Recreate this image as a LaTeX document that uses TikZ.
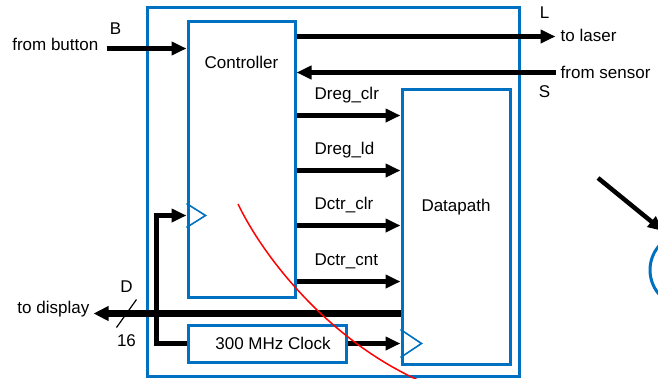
\documentclass[tikz,border=0pt]{standalone}
\usepackage{fontspec}
\setmainfont{Liberation Sans}
\usetikzlibrary{arrows.meta,calc,positioning}
\definecolor{Wire}{HTML}{0070C0}
\definecolor{Cut}{HTML}{FF0000}

\tikzset{
  blk/.style={draw=Wire, line width=3pt, inner sep=0pt},
  tag/.style={font=\fontsize{17}{19}\selectfont, inner sep=0pt},
  sig/.style={line width=4.5pt, -{Triangle[length=15pt,width=13pt]}},
  bus/.style={line width=6.5pt, -{Triangle[length=15pt,width=14pt]}},
  clkmark/.style={draw=Wire, line width=1.6pt},
}

\begin{document}
\begin{tikzpicture}[x=1pt, y=-1pt]
  \useasboundingbox (0,0) rectangle (658,378);

  % system, controller, datapath, clock
  \node[blk, minimum width=372pt, minimum height=369pt] (sys) at (333,191.5) {};
  \node[blk, minimum width=107pt, minimum height=276pt] (ctrl) at (241.5,159) {};
  \node[blk, minimum width=108pt, minimum height=275pt] (dp) at (456,226.5) {};
  \node[blk, minimum width=158pt, minimum height=37pt, tag] (clk) at (267,343.5) {\hspace*{12pt}300 MHz Clock};
  \node[tag] (ctrltxt) at ($(ctrl.north)+(0,43)$) {Controller};
  \node[tag] (dptxt) at ($(dp.north)+(0,120)$) {Datapath};

  % button in
  \path (ctrl.north west) ++(0,29) coordinate (bin);
  \coordinate (bsrc) at ($(bin)+(-80,0)$);
  \draw[sig] (bsrc) -- (bin);
  \node[tag, left=8pt of bsrc, yshift=4pt] (btntxt) {from button};
  \node[tag] (btag) at ($(bsrc)+(9,-20)$) {B};

  % laser out, sensor in
  \path (ctrl.north east) ++(0,17) coordinate (lout);
  \coordinate (ldst) at ($(lout)+(259,0)$);
  \draw[sig] (lout) -- (ldst);
  \node[tag, right=5pt of ldst, yshift=1pt] (lasertxt) {to laser};
  \node[tag] (ltag) at ($(ldst)+(-11,-24)$) {L};

  \path (ctrl.north east) ++(0,53) coordinate (sin);
  \coordinate (ssrc) at ($(sin)+(259,0)$);
  \draw[sig] (ssrc) -- (sin);
  \node[tag, right=5pt of ssrc] (sensortxt) {from sensor};
  \node[tag] (stag) at ($(ssrc)+(-11,19)$) {S};

  % controller to datapath
  \foreach \i/\nm/\yy in {1/Dreg\_clr/96, 2/Dreg\_ld/151, 3/Dctr\_clr/206, 4/Dctr\_cnt/262} {
    \path (ctrl.north east) ++(0,\yy) coordinate (s\i);
    \draw[sig] (s\i) -- (s\i -| dp.west);
    \node[tag, above right=12pt and 18pt of s\i] (sig\i) {\nm};
  }

  % display bus
  \path (dp.south west) ++(0,-52) coordinate (dout);
  \coordinate (dend) at ($(dout)+(-307,0)$);
  \draw[bus] (dout) -- (dend);
  \node[tag, left=4pt of dend, yshift=4pt] (disptxt) {to display};
  \draw[line width=1.2pt] ($(dend)+(23,14)$) -- ($(dend)+(43,-14)$);
  \node[tag] (dtag) at ($(dend)+(33,-27)$) {D};
  \node[tag] (wtag) at ($(dend)+(33,27)$) {16};

  % clock
  \path (ctrl.south west) ++(0,-83) coordinate (cin);
  \coordinate (cbend) at ($(clk.west)+(-30,0)$);
  \draw[sig] (clk.west) -- (cbend) |- (cin);
  \draw[clkmark] ($(cin)+(0,-12)$) -- ++(19,12) -- ++(-19,12);
  \coordinate (dclk) at (clk.east -| dp.west);
  \draw[sig] (clk.east) -- (dclk);
  \draw[clkmark] ($(dclk)+(0,-14)$) -- ++(21,14) -- ++(-21,14);

  % cut line
  \draw[Cut, line width=1.5pt] (238,204) .. controls (265,260) and (330,340) .. (418,380);

  % next part, off the edge
  \node[blk, circle, minimum size=74pt] (nxt) at (687,270) {};
  \coordinate (rtail) at (598,178);
  \coordinate (rhead) at (663,231);
  \draw[sig] (rtail) -- (rhead);
\end{tikzpicture}
\end{document}
